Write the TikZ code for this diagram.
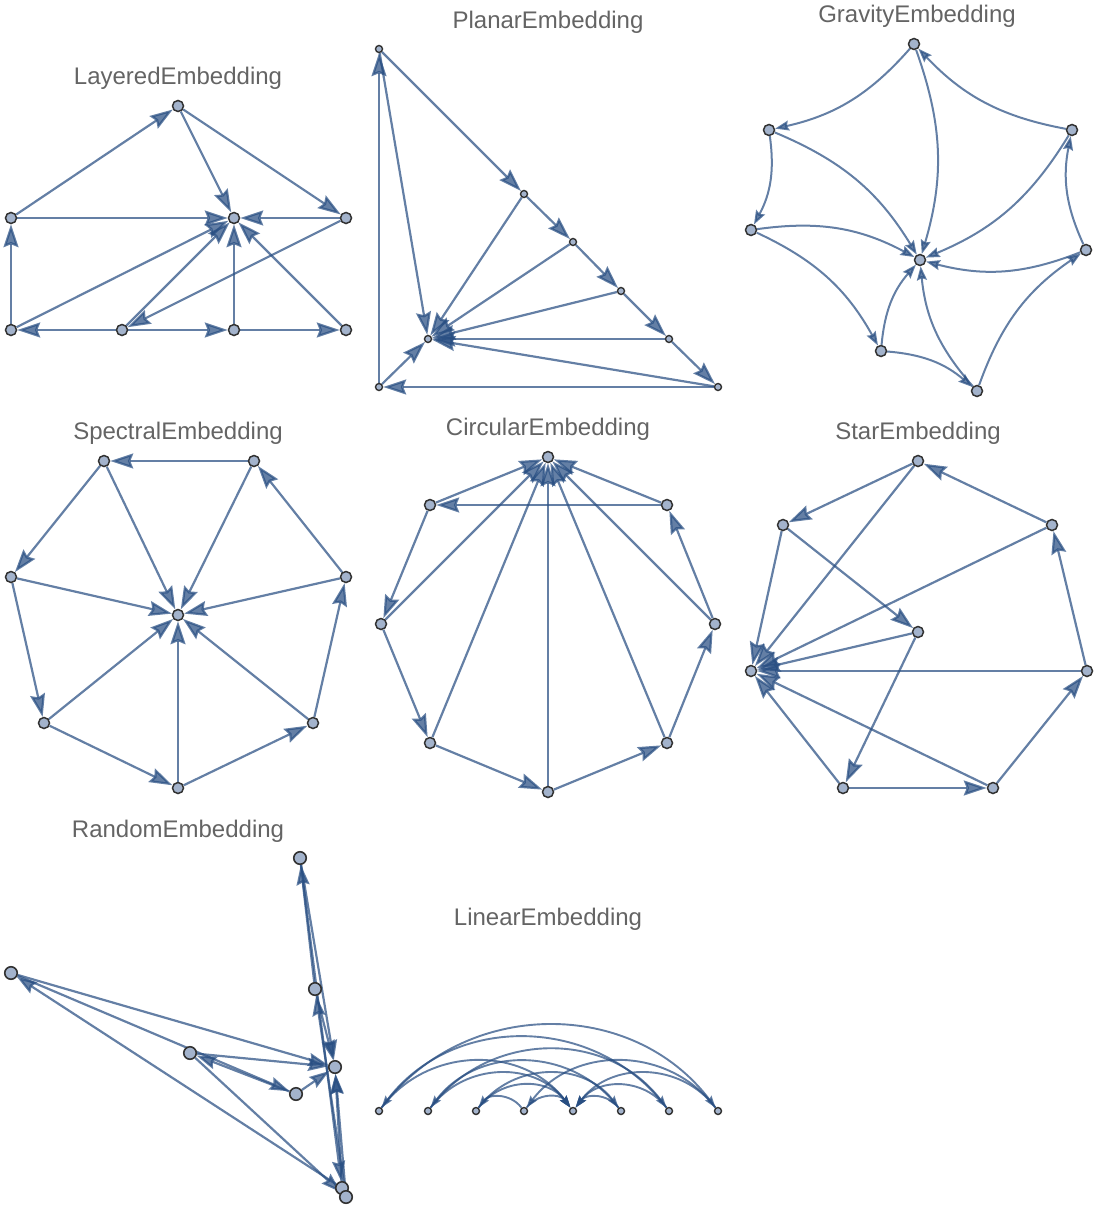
\documentclass[tikz,border=0pt]{standalone}
\usepackage{fontspec}
\setmainfont{Liberation Sans}
\usetikzlibrary{arrows.meta}
\pgfdeclarelayer{edges}
\pgfsetlayers{edges,main}
\definecolor{ec}{RGB}{40,78,130}
\definecolor{vf}{RGB}{163,179,204}
\definecolor{vd}{RGB}{50,50,50}
\definecolor{lab}{RGB}{100,100,100}
\tikzset{
  v/.style={circle, fill=vf, draw=vd, line width=1.5pt, inner sep=0pt, minimum size=11pt},
  vsm/.style={v, minimum size=7pt, line width=1.4pt},
  vbig/.style={v, minimum size=12.5pt, line width=1.6pt},
  ed/.style={draw=ec, line width=2.2pt, opacity=0.72},
  eL/.style={ed, -{Stealth[length=23pt,width=15pt,inset=3pt]}},
  eM/.style={ed, -{Stealth[length=20pt,width=13pt,inset=2.5pt]}},
  eS/.style={ed, line width=2pt, -{Stealth[length=14pt,width=10pt,inset=2pt]}},
  eXS/.style={ed, line width=1.9pt, -{Stealth[length=12pt,width=8pt,inset=1.8pt]}},
  lbl/.style={font=\fontsize{24}{28}\selectfont, text=lab, anchor=base},
}
\begin{document}
\begin{tikzpicture}[x=1pt,y=-1pt]
\useasboundingbox (0,0) rectangle (1100,1212);
% ---------------- titles
\node[lbl] (t1) at (178,85) {LayeredEmbedding};
\node[lbl] (t2) at (548,29) {PlanarEmbedding};
\node[lbl] (t3) at (917,23) {GravityEmbedding};
\node[lbl] (t4) at (178,439) {SpectralEmbedding};
\node[lbl] (t5) at (548,435) {CircularEmbedding};
\node[lbl] (t6) at (918,439) {StarEmbedding};
\node[lbl] (t7) at (178,837) {RandomEmbedding};
\node[lbl] (t8) at (548,925) {LinearEmbedding};

% ---------------- Layered
\node[v] (LA) at (178,106) {};
\node[v] (LB) at (11,218) {};
\node[v] (LC) at (234,218) {};
\node[v] (LD) at (346,218) {};
\node[v] (LE) at (11,330) {};
\node[v] (LF) at (122,330) {};
\node[v] (LG) at (234,330) {};
\node[v] (LH) at (346,330) {};
\begin{pgfonlayer}{edges}
\foreach \a/\b in {LB/LA, LA/LC, LA/LD, LB/LC, LD/LC, LE/LB, LE/LC, LF/LC, LD/LF, LF/LE, LF/LG, LG/LC, LG/LH, LH/LC}
  \draw[eL] (\a) -- (\b);
\end{pgfonlayer}

% ---------------- Planar
\node[vsm] (PA) at (379,49) {};
\node[vsm] (PB) at (524,194) {};
\node[vsm] (PC) at (573,242) {};
\node[vsm] (PD) at (621,291) {};
\node[vsm] (PE) at (669,339) {};
\node[vsm] (PF) at (718,387) {};
\node[vsm] (PH) at (428,339) {};
\node[vsm] (PG) at (379,387) {};
\begin{pgfonlayer}{edges}
\foreach \a/\b in {PA/PB, PB/PC, PC/PD, PD/PE, PE/PF, PF/PG, PG/PA, PA/PH, PB/PH, PC/PH, PD/PH, PE/PH, PF/PH, PG/PH}
  \draw[eL] (\a) -- (\b);
\end{pgfonlayer}

% ---------------- Gravity
\node[v] (GA) at (914,44) {};
\node[v] (GB) at (769,130) {};
\node[v] (GC) at (1072,130) {};
\node[v] (GD) at (751,230) {};
\node[v] (GH) at (920,260) {};
\node[v] (GF) at (1086,250) {};
\node[v] (GE) at (881,351) {};
\node[v] (GG) at (977,391) {};
\begin{pgfonlayer}{edges}
\foreach \a/\b in {GA/GB, GC/GA, GB/GD, GF/GC, GD/GE, GE/GG, GG/GF, GA/GH, GB/GH, GC/GH, GD/GH, GF/GH, GE/GH, GG/GH}
  \draw[eS] (\a) to[bend left=18] (\b);
\end{pgfonlayer}

% ---------------- Spectral
\node[v] (SA) at (104,461) {};
\node[v] (SB) at (254,461) {};
\node[v] (SC) at (11,577) {};
\node[v] (SD) at (346,577) {};
\node[v] (SH) at (178,615) {};
\node[v] (SE) at (44,723) {};
\node[v] (SF) at (313,723) {};
\node[v] (SG) at (178,788) {};
\begin{pgfonlayer}{edges}
\foreach \a/\b in {SB/SA, SA/SC, SC/SE, SE/SG, SG/SF, SF/SD, SD/SB, SA/SH, SB/SH, SC/SH, SD/SH, SE/SH, SF/SH, SG/SH}
  \draw[eL] (\a) -- (\b);
\end{pgfonlayer}

% ---------------- Circular
\node[v] (CA) at (548,457) {};
\node[v] (CB) at (430,505) {};
\node[v] (CC) at (667,505) {};
\node[v] (CD) at (381,624) {};
\node[v] (CE) at (715,624) {};
\node[v] (CF) at (430,743) {};
\node[v] (CG) at (667,743) {};
\node[v] (CH) at (548,792) {};
\begin{pgfonlayer}{edges}
\foreach \a/\b in {CC/CB, CB/CD, CD/CF, CF/CH, CH/CG, CG/CE, CE/CC, CB/CA, CC/CA, CD/CA, CE/CA, CF/CA, CG/CA, CH/CA}
  \draw[eL] (\a) -- (\b);
\end{pgfonlayer}

% ---------------- Star
\node[v] (TA) at (918,461) {};
\node[v] (TB) at (783,525) {};
\node[v] (TC) at (1052,525) {};
\node[v] (TD) at (918,632) {};
\node[v] (TH) at (751,671) {};
\node[v] (TF) at (1087,671) {};
\node[v] (TE) at (843,788) {};
\node[v] (TG) at (993,788) {};
\begin{pgfonlayer}{edges}
\foreach \a/\b in {TA/TB, TC/TA, TB/TD, TD/TE, TE/TG, TG/TF, TF/TC, TA/TH, TB/TH, TC/TH, TD/TH, TF/TH, TE/TH, TG/TH}
  \draw[eL] (\a) -- (\b);
\end{pgfonlayer}

% ---------------- Random
\node[vbig] (RA) at (11,973) {};
\node[vbig] (RB) at (190,1053) {};
\node[vbig] (RC) at (296,1094) {};
\node[vbig] (RD) at (300,858) {};
\node[vbig] (RE) at (315,989) {};
\node[vbig] (RH) at (335,1067) {};
\node[vbig] (RF) at (342,1188) {};
\node[vbig] (RG) at (346,1197) {};
\begin{pgfonlayer}{edges}
\foreach \a/\b in {RF/RA, RA/RC, RC/RB, RB/RG, RG/RE, RE/RD, RD/RF, RA/RH, RB/RH, RC/RH, RD/RH, RE/RH, RF/RH, RG/RH}
  \draw[eM] (\a) -- (\b);
\end{pgfonlayer}

% ---------------- Linear
\foreach \n/\x in {NA/379, NB/428, NC/476, ND/524, NE/573, NF/621, NG/669, NH/718}
  \node[vsm] (\n) at (\x,1111) {};
\begin{pgfonlayer}{edges}
\foreach \a/\b in {NA/NH, NC/NF, NB/NG, NA/NE, NB/NE, NC/NE, ND/NE}
  \draw[eXS] (\a) to[bend left=53, looseness=1.06] (\b);
\foreach \a/\b in {NH/ND, ND/NC, NF/NB, NG/NA, NF/NE, NG/NE, NH/NE}
  \draw[eXS] (\a) to[bend right=53, looseness=1.06] (\b);
\end{pgfonlayer}
\end{tikzpicture}
\end{document}
